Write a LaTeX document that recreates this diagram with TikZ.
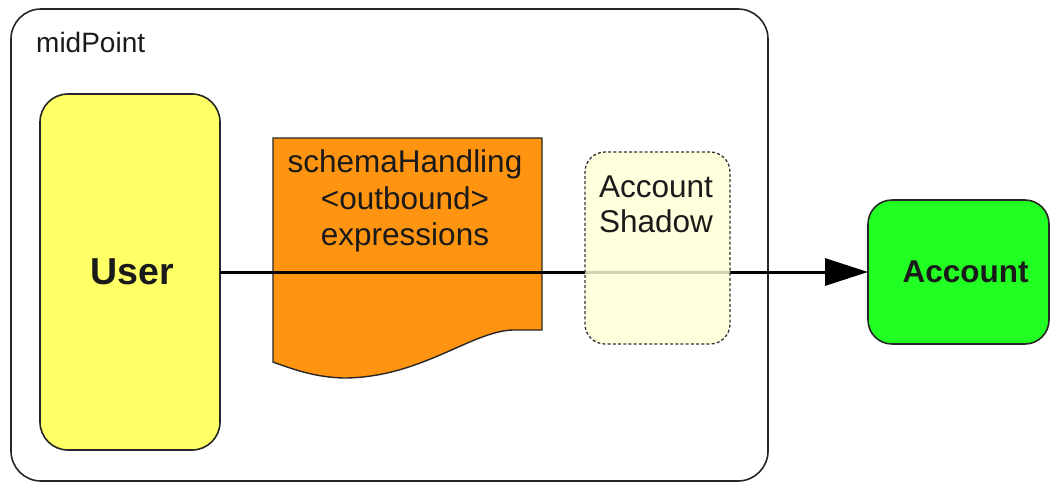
\documentclass[tikz,border=0pt]{standalone}
\usepackage{fontspec}
\setmainfont{Liberation Sans}
\usetikzlibrary{arrows.meta}
\definecolor{userfill}{HTML}{FFFF66}
\definecolor{docfill}{HTML}{FF9410}
\definecolor{accfill}{HTML}{22FF22}
\definecolor{shadowfill}{HTML}{FFFFD6}
\definecolor{txt}{HTML}{1A1A1A}
\begin{document}
\begin{tikzpicture}[x=1pt,y=-1pt,
  box/.style={draw=black!85,line width=1.6pt,inner sep=0pt,outer sep=0pt,text=txt},
  lbl/.style={text=txt,inner sep=0pt,align=center},
  flow/.style={draw=black,line width=3pt,-{Triangle[length=43pt,width=27pt]}}]
\useasboundingbox (0,0) rectangle (1051,483);
\node[box,rounded corners=30pt,minimum width=757pt,minimum height=472pt] (mid) at (389.5,245) {};
\node[lbl,anchor=west,font=\fontsize{28}{34}\selectfont] (midlbl) at (36,42) {midPoint};
\node[box,fill=userfill,rounded corners=28pt,minimum width=180pt,minimum height=356pt] (user) at (130,272) {};
\node[lbl,font=\fontsize{37.5}{40}\selectfont\bfseries] (userlbl) at (132,272) {User};
\node[box,fill=accfill,rounded corners=24pt,minimum width=181pt,minimum height=144pt] (account) at (958.5,272) {};
\node[lbl,font=\fontsize{31.5}{36}\selectfont\bfseries] (acclbl) at (965.5,272) {Account};
% document shape
\coordinate (dtl) at (273,138);
\coordinate (dtr) at (542,138);
\coordinate (dbr) at (542,330);
\coordinate (dbl) at (273,362);
\draw[fill=docfill,draw=black!85,line width=1.4pt] (dtl) -- (dtr) -- (dbr) -- (512,330)
  .. controls (470,332) and (420,378) .. (343,378)
  .. controls (318,377) and (300,372) .. (dbl) -- cycle;
\node[lbl,font=\fontsize{31.5}{36.5}\selectfont] (doc) at (405,201) {schemaHandling\\{<}outbound{>}\\expressions};
\draw[flow] (user) -- (account);
\node[box,draw=black!80,line width=1.3pt,dash pattern=on 3pt off 2.2pt,fill=shadowfill,fill opacity=0.82,rounded corners=20pt,minimum width=145pt,minimum height=192pt] (shadow) at (657.5,248) {};
\node[lbl,font=\fontsize{31.5}{35}\selectfont] (shadowlbl) at (656,204) {Account\\Shadow};
\end{tikzpicture}
\end{document}
